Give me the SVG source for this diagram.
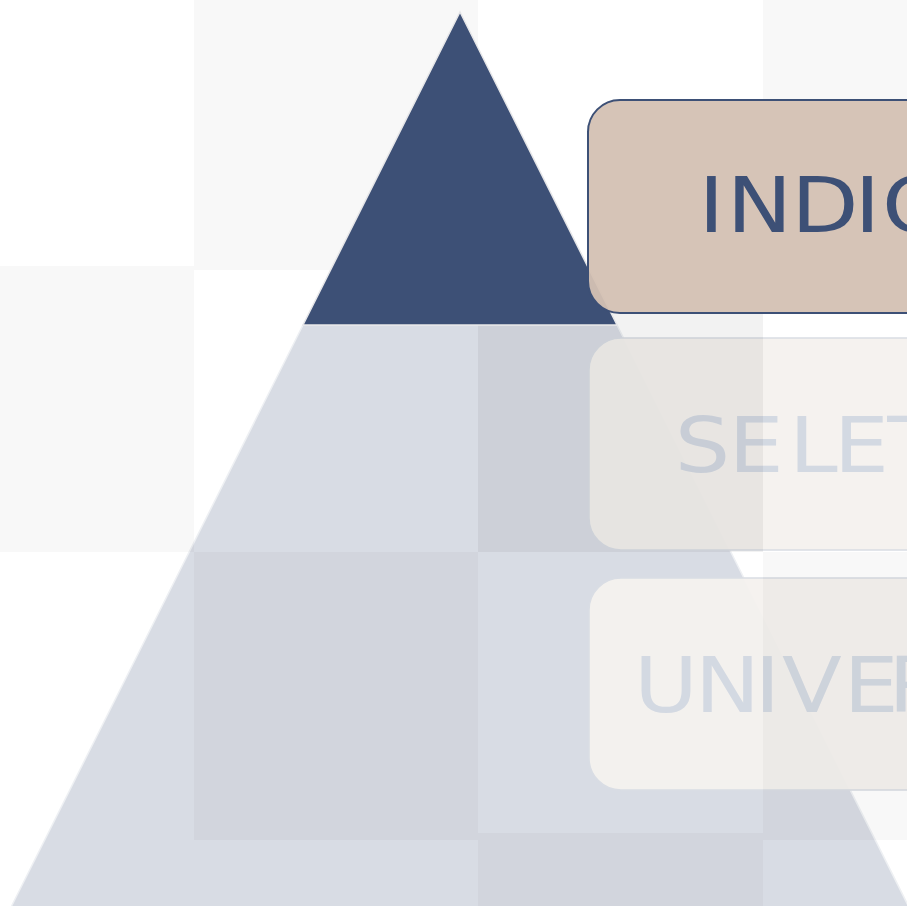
<svg xmlns="http://www.w3.org/2000/svg" width="907" height="906" viewBox="0 0 907 906">
  <style>
    .tier { fill: #3d5076; fill-opacity: 0.2; }
    .outline { fill: none; stroke: #eef0f3; stroke-width: 1.5; }
    .apex { fill: #3d5076; stroke: #e6e6e8; stroke-width: 1.5; }
    .box-on { fill: #d4c1b3; fill-opacity: 0.95; stroke: #3d5076; stroke-width: 2; }
    .box-off { fill: #f4f1ee; fill-opacity: 0.95; stroke: #d9dde4; stroke-width: 1.5; }
    .lbl { font-family: "DejaVu Sans", Verdana, sans-serif; font-size: 76px; }
    .lbl-on { fill: #3d5076; }
    .lbl-off { fill: #d3d9e2; }
    .chk { fill: #000000; fill-opacity: 0.027; }
    .chk2 { fill: #000000; fill-opacity: 0.05; }
  </style>
  <rect x="0" y="0" width="907" height="906" fill="#ffffff"/>
  <g id="pyramid">
    <g id="tier-universal"><polygon class="tier" points="157.5,615 762.5,615 908.4,906 11.6,906"/></g>
    <g id="tier-seletiva"><polygon class="tier" points="303,325 617,325 762.5,615 157.5,615"/></g>
    <polyline class="outline" points="11.6,906 303,325 617,325 908.4,906"/>
  </g>
  <g id="connectors"></g>
  <g id="box-seletiva">
    <rect class="box-off" x="589" y="338" width="600" height="212" rx="32" ry="32"/>
    <text class="lbl lbl-off" transform="scale(1.15,1)" x="586.7 633.4 686.2 725.1 771.6 818.0 840.4 892.4" y="472">SELETIVA</text>
  </g>
  <g id="box-universal">
    <rect class="box-off" x="589" y="578" width="600" height="212" rx="32" ry="32"/>
    <text class="lbl lbl-off" transform="scale(1.15,1)" x="551.3 604.2 656.2 680.1 733.4 772.5 825.3 873.6 925.6" y="712">UNIVERSAL</text>
  </g>
  <g id="checker">
    <rect class="chk" x="194" y="0" width="284" height="270"/>
    <rect class="chk" x="763" y="0" width="144" height="268"/>
    <rect class="chk" x="0" y="266" width="194" height="286"/>
    <rect class="chk2" x="478" y="270" width="285" height="282"/>
    <rect class="chk" x="194" y="552" width="284" height="288"/>
    <rect class="chk" x="763" y="552" width="144" height="288"/>
    <rect class="chk" x="478" y="833" width="285" height="73"/>
  </g>
  <g id="tier-indicada"><polygon class="apex" points="460,12 617,325 303,325"/></g>
  <g id="box-indicada">
    <rect class="box-on" x="588" y="100" width="600" height="213" rx="32" ry="32"/>
    <text class="lbl lbl-on" transform="scale(1.15,1)" x="607.5 632.0 688.0 743.1 767.0 820.1 872.1 930.6" y="232">INDICADA</text>
  </g>
</svg>
